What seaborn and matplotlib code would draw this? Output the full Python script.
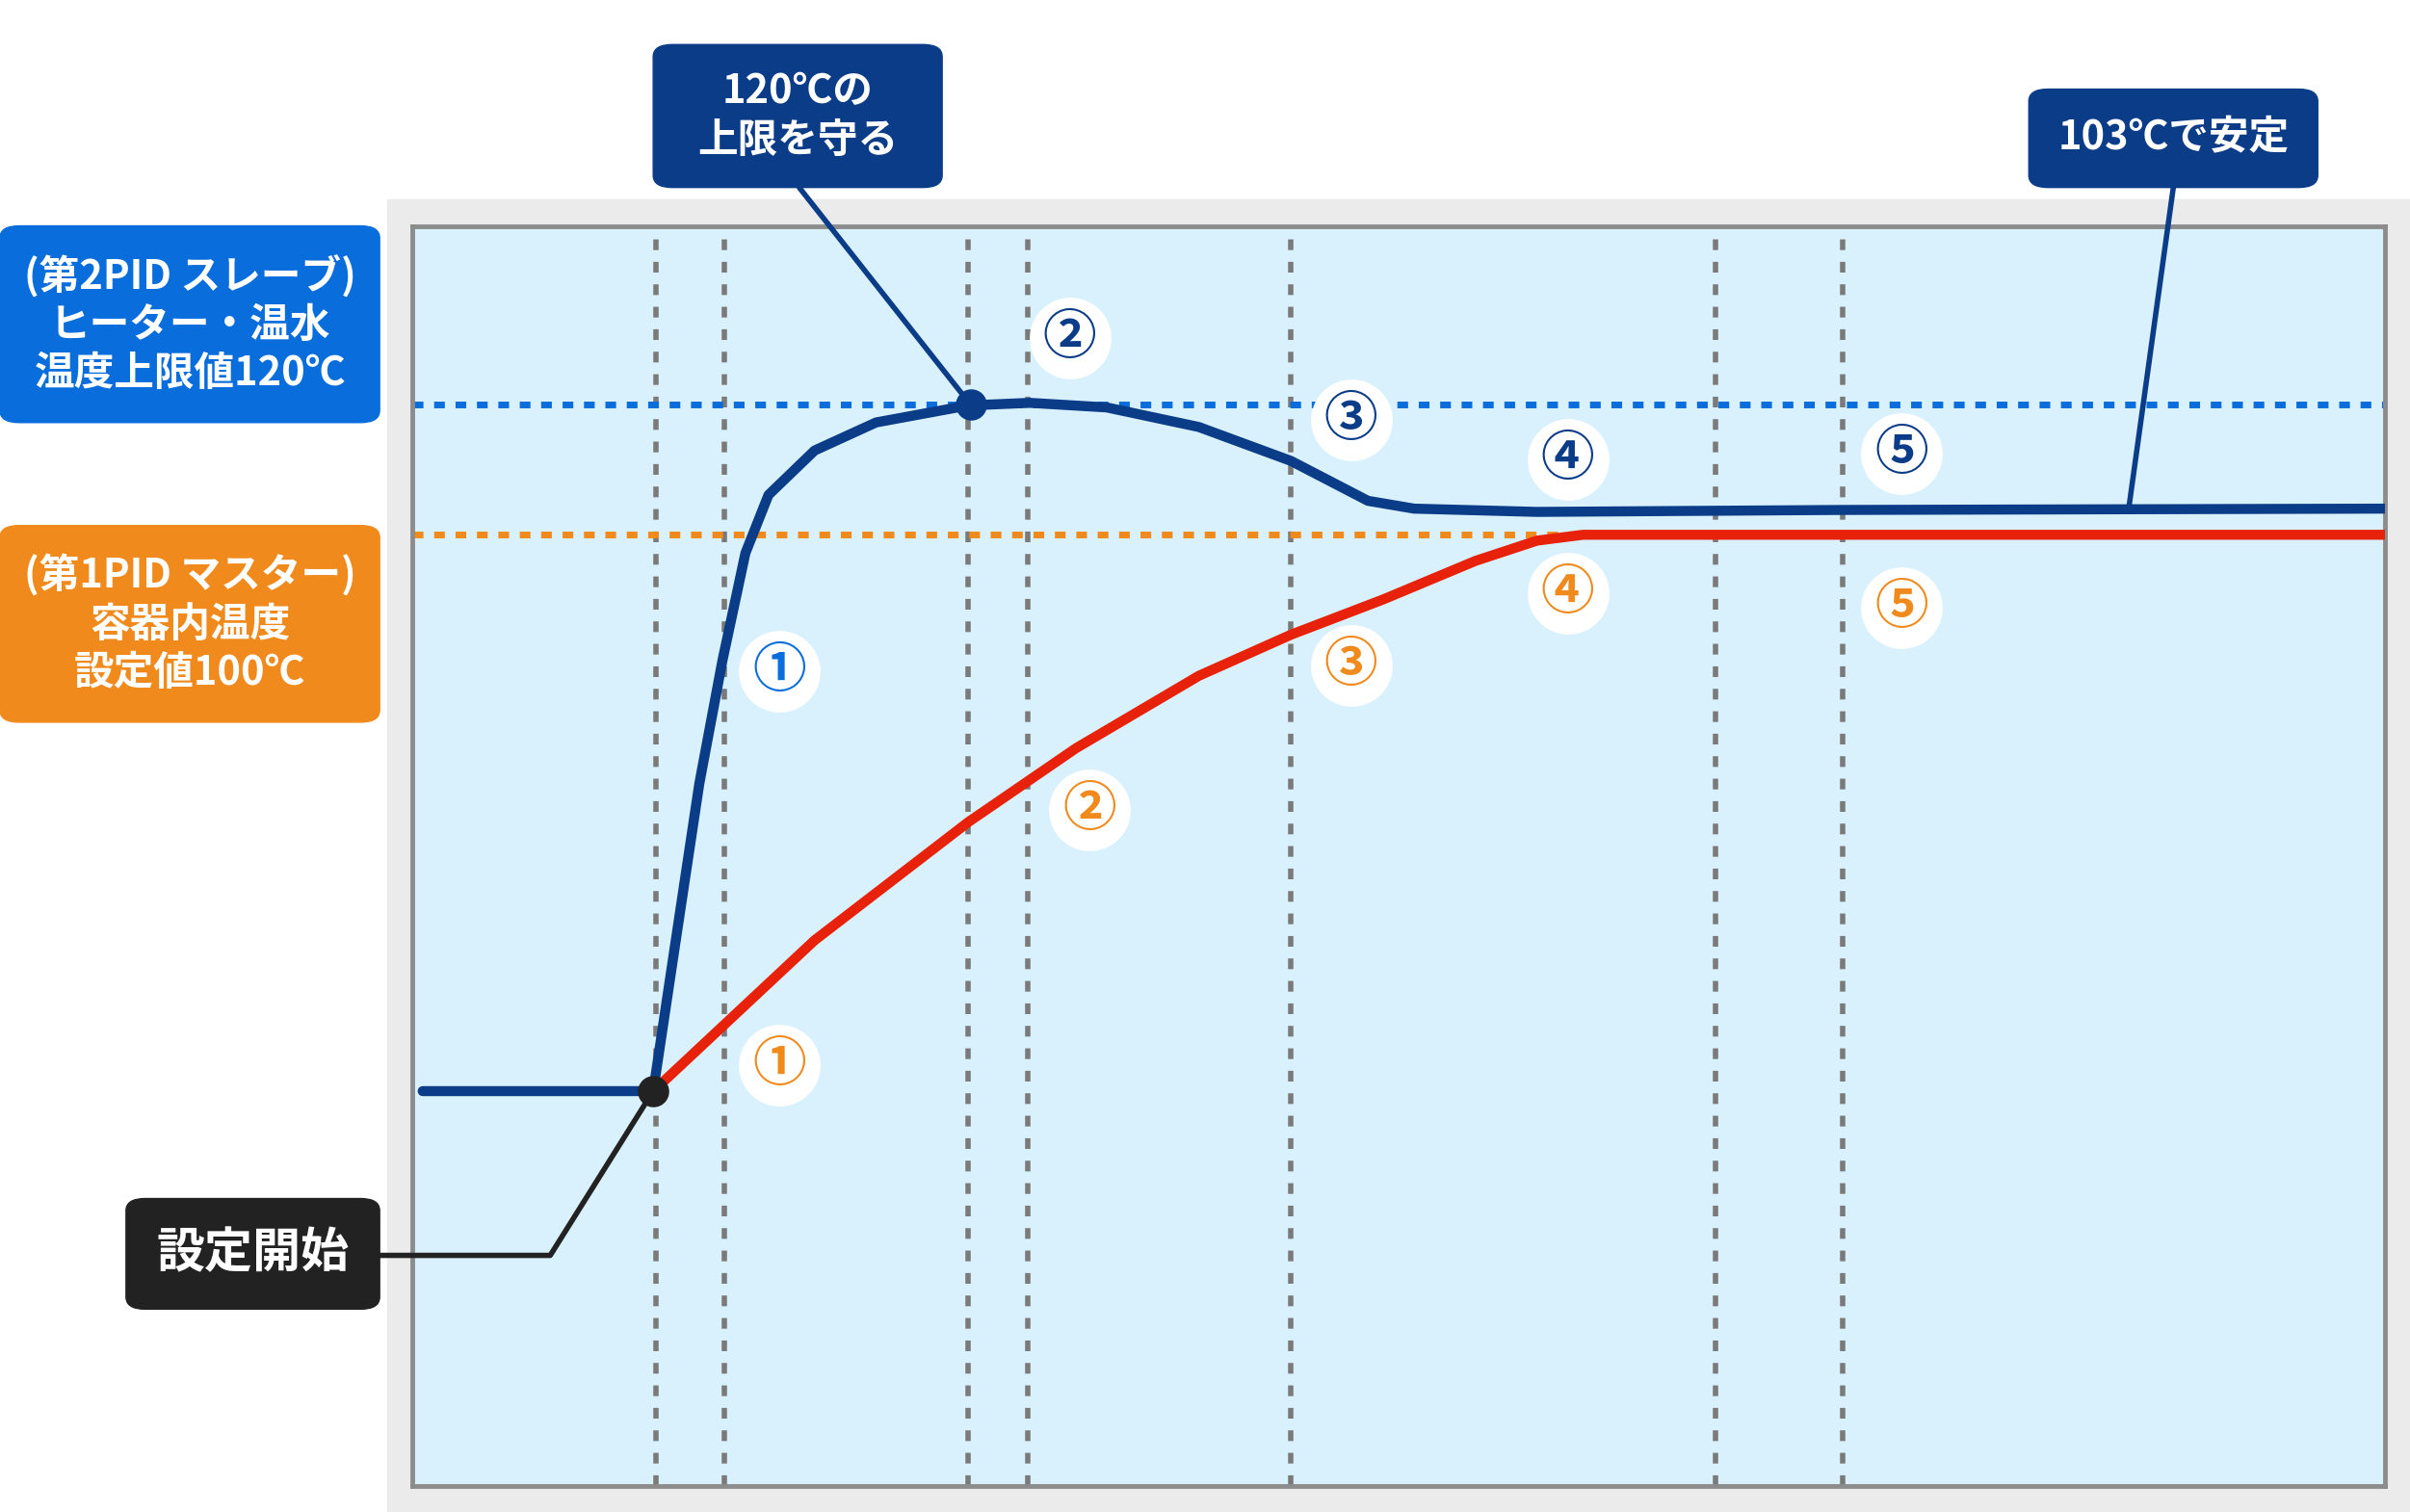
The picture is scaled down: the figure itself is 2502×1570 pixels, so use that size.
import matplotlib
matplotlib.use('Agg')
import matplotlib.pyplot as plt
import seaborn as sns
import pandas as pd
from matplotlib.patches import Rectangle, FancyBboxPatch

sns.set_theme(style='white')
plt.rcParams['font.family'] = ['Noto Sans CJK JP', 'DejaVu Sans']

# time (arb.) vs temperature (deg C)
blue_t = [0.7, 15.7, 17.2, 18.7, 20.2, 21.7, 23.2, 26.2, 30.2, 36.2, 40.2, 45.2, 51.2, 57.2, 62.2, 65.2, 73.2, 93.2, 128.4]
blue_T = [14.8, 14.8, 38.4, 61.9, 80.7, 97.2, 106.1, 112.9, 117.2, 119.8, 120.2, 119.5, 116.5, 111.3, 105.2, 104.0, 103.5, 103.8, 104.0]
red_t = [15.7, 20.2, 26.2, 36.2, 43.2, 51.2, 57.2, 63.2, 69.2, 73.2, 76.2, 128.4]
red_T = [14.8, 24.7, 37.9, 56.0, 67.3, 78.4, 84.7, 90.1, 96.0, 99.1, 100.0, 100.0]
slave_limit = 120
master_sv = 100
phase_t = [15.9, 20.3, 36.2, 40.1, 57.2, 84.8, 93.1]
step_nums = ['①', '②', '③', '④', '⑤']
blue_num_t = [23.9, 42.8, 61.1, 75.2, 96.9]
blue_num_T = [79.1, 130.1, 117.6, 111.5, 112.5]
red_num_t = [23.9, 44.1, 61.1, 75.2, 96.9]
red_num_T = [18.8, 57.9, 80.0, 91.1, 88.9]

NAVY = '#0b3c88'
BLUE = '#0a6ddc'
ORANGE = '#f08a1c'
RED = '#e8220a'

W, H = 1568, 984
fig = plt.figure(figsize=(25.02, 15.70), dpi=100)
def fx(x): return x / W
def fy(y): return 1 - y / H

fig.patches.append(Rectangle((fx(252), 0), 1 - fx(252), fy(130), transform=fig.transFigure,
                             color='#ebebeb', zorder=-5))
ax = fig.add_axes([fx(268), fy(967), (1552 - 268) / W, (967 - 147) / H])
ax.set_zorder(1)
ax.set_facecolor('#d9f1fc')
ax.set_xlim(0, 128.4)
ax.set_ylim(-45.65, 147.3)
ax.set_xticks([]); ax.set_yticks([])
for s in ax.spines.values():
    s.set_color('#8c8c8c'); s.set_linewidth(3.5)

for t in phase_t:
    ax.axvline(t, color='#7a7a7a', lw=4, ls=(0, (2, 2.2)), zorder=1)
ax.axhline(slave_limit, color=BLUE, lw=5, ls=(0, (1.6, 1.6)), zorder=1)
ax.axhline(master_sv, color=ORANGE, lw=5, ls=(0, (1.6, 1.6)), zorder=1)

sns.lineplot(data=pd.DataFrame({'t': red_t, 'T': red_T}), x='t', y='T', ax=ax,
             sort=False, color=RED, lw=7.5, zorder=3)
sns.lineplot(data=pd.DataFrame({'t': blue_t, 'T': blue_T}), x='t', y='T', ax=ax,
             sort=False, color=NAVY, lw=7.5, zorder=4)
ax.set_xlabel(''); ax.set_ylabel('')

# circled step numbers
for nums_t, nums_T, cols in [(blue_num_t, blue_num_T, [BLUE] + [NAVY] * 4),
                             (red_num_t, red_num_T, [ORANGE] * 5)]:
    ax.scatter(nums_t, nums_T, s=3600, color='white', zorder=5)
    for n, t, T, c in zip(step_nums, nums_t, nums_T, cols):
        ax.text(t, T, n, color=c, fontsize=40, ha='center', va='center',
                fontweight='bold', zorder=6)

# key points
ax.scatter([36.4], [slave_limit], s=500, color=NAVY, zorder=7, clip_on=False)
ax.scatter([red_t[0]], [red_T[0]], s=500, color='#222222', zorder=7, clip_on=False)

def d(x, y):
    return (x - 268) / 10, 100 - (y - 348) / 4.25

# leader lines (in data coordinates, drawn outside axes)
for pts, c in [([(520, 122), (632, 264)], NAVY),
               ([(1414, 122), (1385, 331)], NAVY),
               ([(247, 817), (358, 817), (425, 710)], '#222222')]:
    xs, ys = zip(*[d(*p) for p in pts])
    ax.plot(xs, ys, color=c, lw=4, clip_on=False, zorder=6)

def box(x0, y0, x1, y1, color, text, size=30):
    fig.patches.append(FancyBboxPatch((fx(x0), fy(y1)), fx(x1) - fx(x0), fy(y0) - fy(y1),
                                      boxstyle='round,pad=0,rounding_size=0.008',
                                      transform=fig.transFigure, color=color, zorder=10))
    fig.text(fx((x0 + x1) / 2), fy((y0 + y1) / 2), text, color='white', fontsize=size,
             fontweight='bold', ha='center', va='center', linespacing=1.25, zorder=11)

box(0, 147, 247, 275, BLUE, '(第2PID スレーブ)\nヒーター・温水\n温度上限値120℃')
box(0, 342, 247, 470, ORANGE, '(第1PID マスター)\n容器内温度\n設定値100℃')
box(82, 780, 247, 852, '#222222', '設定開始', size=36)
box(425, 29, 613, 122, NAVY, '120℃の\n上限を守る')
box(1320, 58, 1508, 122, NAVY, '103℃で安定')

fig.savefig('out.png', dpi=100)
